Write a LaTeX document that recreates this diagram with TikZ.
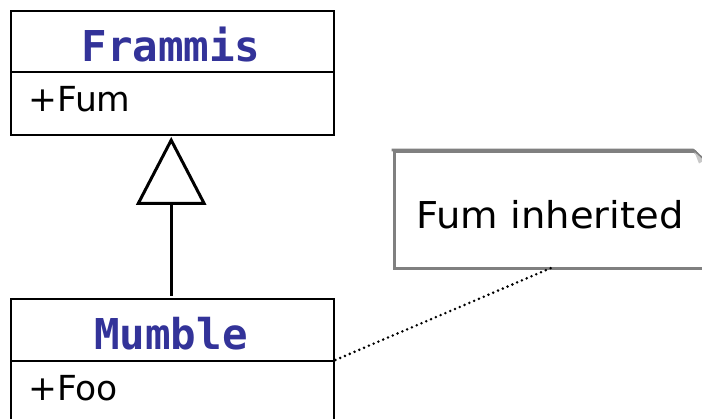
\documentclass[tikz,border=0pt]{standalone}
\usepackage{fontspec}
\setmainfont{DejaVu Sans}
\newfontfamily\titlefont{DejaVu Sans Mono}
\usetikzlibrary{arrows.meta,calc}
\definecolor{classblue}{RGB}{51,51,153}
\definecolor{notegrey}{RGB}{128,128,128}
\definecolor{foldgrey}{RGB}{200,200,200}
\begin{document}
\begin{tikzpicture}[x=1pt,y=-1pt,
  classbox/.style={draw=black, line width=2.4pt, fill=white, inner sep=0pt, anchor=north west},
  classname/.style={font=\titlefont\bfseries\fontsize{42.5}{42.5}\selectfont, text=classblue, inner sep=0pt, anchor=base},
  attr/.style={font=\fontsize{34.5}{34.5}\selectfont, inner sep=0pt, anchor=base west},
  notebox/.style={draw=notegrey, line width=2.8pt, fill=white, inner sep=0pt, anchor=north west},
  inherit/.style={line width=3pt, -{Triangle[open, length=68pt, width=70pt, line width=3pt]}},
  anchorline/.style={line width=2.8pt, dash pattern=on 0pt off 5.2pt, line cap=round}]
  \clip (0,0) rectangle (702,419);

  % class Frammis
  \node[classbox, minimum width=323pt, minimum height=61pt] (frammishead) at (10,10) {};
  \node[classbox, minimum width=323pt, minimum height=63pt] (frammisattr) at (10,71) {};
  \node[classname] (frammisname) at (171,62) {Frammis};
  \node[attr] (fum) at (28,112) {+Fum};

  % class Mumble
  \node[classbox, minimum width=323pt, minimum height=62pt] (mumblehead) at (10,298) {};
  \node[classbox, minimum width=323pt, minimum height=80pt] (mumbleattr) at (10,360) {};
  \node[classname] (mumblename) at (171,350) {Mumble};
  \node[attr] (foo) at (28,401) {+Foo};

  % note with folded corner
  \node[notebox, minimum width=330pt, minimum height=117pt] (note) at (393,150) {};
  \fill[white] (694,148) -- (706,148) -- (706,162) -- cycle;
  \draw[notegrey, line width=2.8pt, line join=round] (391.6,150) -- (693,150) -- (706,162);
  \fill[foldgrey] (694.5,152) -- (699,163.5) -- (704,160.5) -- cycle;
  \node[font=\fontsize{37}{37}\selectfont, inner sep=0pt, anchor=base] (notetext) at (550,229) {\scalebox{1.04}[1]{Fum inherited}};
  \coordinate (notetip) at (551,268);

  % generalization Mumble -> Frammis
  \draw[inherit] ($(mumblehead.north)+(-1.5,-2)$) -- ($(frammisattr.south)+(-1.5,0.5)$);

  % note attachment
  \draw[anchorline] (mumbleattr.north east) -- (notetip);
\end{tikzpicture}
\end{document}
